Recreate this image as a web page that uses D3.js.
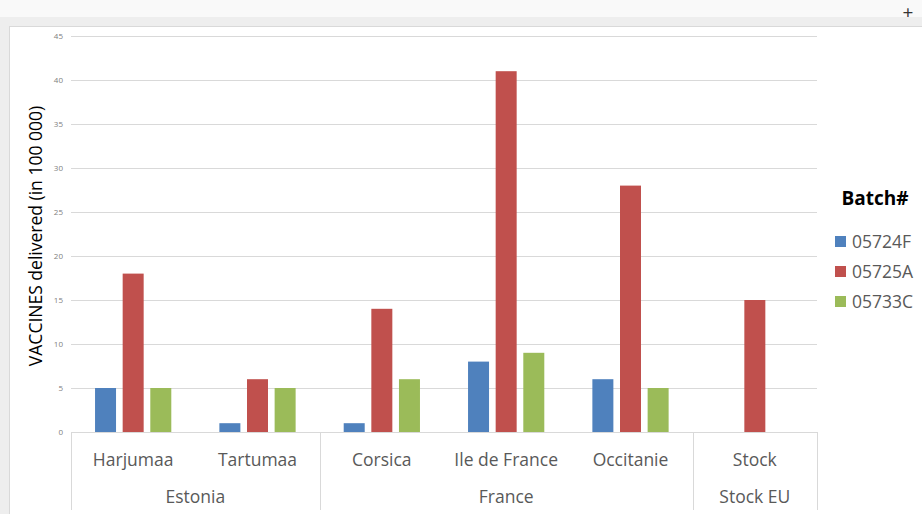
<!DOCTYPE html>
<html>
<head>
<meta charset="utf-8">
<script src="https://cdn.jsdelivr.net/npm/d3@7"></script>
<style>
  body { margin: 0; background: #f4f4f4; }
  svg { display: block; font-family: "Open Sans", "Noto Sans", sans-serif; }
</style>
</head>
<body>
<svg id="chart" width="922" height="514"></svg>
<script>
// DATA
const regions = ["Harjumaa", "Tartumaa", "Corsica", "Ile de France", "Occitanie", "Stock"];
const countries = [
  { name: "Estonia", from: 0, to: 2 },
  { name: "France", from: 2, to: 5 },
  { name: "Stock EU", from: 5, to: 6 }
];
const batches = ["05724F", "05725A", "05733C"];
const batch05724F = [5, 1, 1, 8, 6, 0];
const batch05725A = [18, 6, 14, 41, 28, 15];
const batch05733C = [5, 5, 6, 9, 5, 0];
const yTicks = [0, 5, 10, 15, 20, 25, 30, 35, 40, 45];
const colors = ["#4f81bd", "#c0504d", "#9bbb59"];

const series = [batch05724F, batch05725A, batch05733C];

const svg = d3.select("#chart");
const W = 922, H = 514;

// frame around the chart (screenshot window)
svg.append("rect").attr("x", 0).attr("y", 0).attr("width", W).attr("height", 17).attr("fill", "#f9f9f9");
svg.append("rect").attr("x", 0).attr("y", 17).attr("width", W).attr("height", 9).attr("fill", "#eeeeee");
svg.append("rect").attr("x", 0).attr("y", 26).attr("width", 9).attr("height", H).attr("fill", "#eeeeee");
svg.append("rect").attr("x", 9.5).attr("y", 26.5).attr("width", W).attr("height", H)
  .attr("fill", "#fff").attr("stroke", "#d9d9d9");
svg.append("text").attr("x", 908).attr("y", 19).attr("text-anchor", "middle")
  .attr("font-size", 19).attr("fill", "#333").text("+");

const plotLeft = 71, plotRight = 817, plotTop = 36, plotBottom = 432;

const y = d3.scaleLinear().domain([0, 45]).range([plotBottom, plotTop]);
const x0 = d3.scaleBand().domain(regions).range([plotLeft, plotRight]).padding(0);
const x1 = d3.scaleBand().domain(batches).range([0, x0.bandwidth()])
  .paddingInner(0.24).paddingOuter(0.87);

// gridlines
svg.append("g").selectAll("line").data(yTicks).join("line")
  .attr("x1", plotLeft).attr("x2", plotRight)
  .attr("y1", d => Math.round(y(d)) + 0.5).attr("y2", d => Math.round(y(d)) + 0.5)
  .attr("stroke", "#d9d9d9").attr("stroke-width", 1);

// y tick labels
svg.append("g").selectAll("text").data(yTicks).join("text")
  .attr("x", 63).attr("y", d => y(d) + 3)
  .attr("text-anchor", "end").attr("font-size", 8).attr("fill", "#808080")
  .text(d => d);

// y axis title
svg.append("text")
  .attr("transform", `translate(42,236) rotate(-90)`)
  .attr("text-anchor", "middle").attr("font-size", 17.5).attr("fill", "#000")
  .text("VACCINES delivered (in 100 000)");

// bars
const groups = svg.append("g").selectAll("g").data(regions).join("g")
  .attr("transform", d => `translate(${x0(d)},0)`);
groups.selectAll("rect")
  .data((d, i) => batches.map((b, j) => ({ b, j, v: series[j][i] })))
  .join("rect")
  .filter(d => d.v > 0)
  .attr("x", d => x1(d.b)).attr("width", x1.bandwidth())
  .attr("y", d => y(d.v)).attr("height", d => plotBottom - y(d.v))
  .attr("fill", d => colors[d.j]);

// category separators (multi-level axis)
const seps = [0, 2, 5, 6].map(i => i < regions.length ? x0(regions[i]) : plotRight);
svg.append("g").selectAll("line").data(seps).join("line")
  .attr("x1", d => Math.round(d) + 0.5).attr("x2", d => Math.round(d) + 0.5)
  .attr("y1", plotBottom).attr("y2", 510)
  .attr("stroke", "#d9d9d9");

// level 1 labels
svg.append("g").selectAll("text").data(regions).join("text")
  .attr("x", d => x0(d) + x0.bandwidth() / 2).attr("y", 466)
  .attr("text-anchor", "middle").attr("font-size", 17.5).attr("fill", "#595959")
  .text(d => d);

// level 2 labels
svg.append("g").selectAll("text").data(countries).join("text")
  .attr("x", d => plotLeft + (d.from + d.to) / 2 * x0.step()).attr("y", 503)
  .attr("text-anchor", "middle").attr("font-size", 17.5).attr("fill", "#595959")
  .text(d => d.name);

// legend
svg.append("text").attr("x", 875).attr("y", 205).attr("text-anchor", "middle")
  .attr("font-size", 19).attr("font-weight", "bold").attr("fill", "#000").text("Batch#");
const leg = svg.append("g").selectAll("g").data(batches).join("g")
  .attr("transform", (d, i) => `translate(835,${236 + i * 30})`);
leg.append("rect").attr("width", 11).attr("height", 11).attr("fill", (d, i) => colors[i]);
leg.append("text").attr("x", 17).attr("y", 11.5)
  .attr("font-size", 17.5).attr("fill", "#595959").text(d => d);
</script>
</body>
</html>
